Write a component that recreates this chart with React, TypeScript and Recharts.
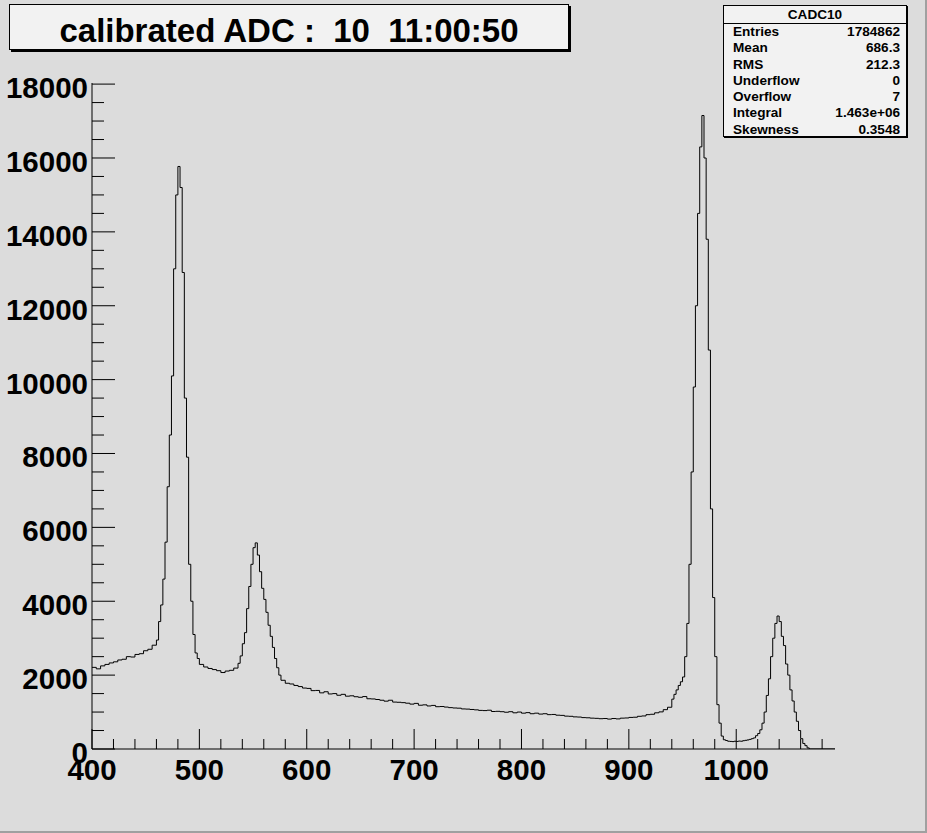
import { LineChart, Line, XAxis, YAxis } from "recharts"

const shoulderCounts = [2210, 2170, 2250, 2290, 2330, 2360, 2410, 2430, 2500, 2490, 2560, 2580, 2660, 2700, 2810]
const peak1Counts = [2950, 3450, 3900, 4600, 5600, 7100, 8500, 10100, 13000, 15000, 15770, 15200, 12900, 9500, 7900, 5000, 4000, 3100, 2600, 2450]
const valleyCounts = [2290, 2220, 2180, 2150, 2120, 2070, 2110, 2130, 2190]
const peak2Counts = [2320, 2520, 2850, 3150, 3800, 4400, 5000, 5450, 5580, 5250, 4800, 4350, 4050, 3700, 3350, 3050, 2750, 2450, 2200, 2000]
const plateauCounts = [
  1860, 1780, 1760, 1720, 1690, 1650, 1640, 1580, 1585, 1520, 1550, 1490, 1500, 1455, 1480, 1430,
  1440, 1415, 1400, 1420, 1360, 1355, 1340, 1320, 1295, 1320, 1270, 1265, 1255, 1240, 1215, 1235,
  1185, 1195, 1165, 1180, 1145, 1150, 1135, 1120, 1110, 1105, 1085, 1080, 1070, 1060, 1045, 1040,
  1050, 1015, 1020, 1010, 995, 1010, 980, 1000, 970, 985, 955, 970, 945, 955, 930, 935,
  915, 910, 890, 885, 870, 865, 850, 845, 835, 830, 820, 825, 810, 825, 815, 835,
  840, 855, 860, 885, 895, 930, 940, 980, 1005, 1065, 1130,
]
const tailCounts = [
  1350, 1480, 1600, 1720, 1820, 1950, 2500, 3400, 5000, 7500, 9800, 12000, 14500, 16300, 17150, 16000,
  13800, 10800, 6500, 4100, 2500, 1200, 700, 350, 250, 230, 210, 205, 200, 210, 205, 215,
  210, 225, 235, 245, 260, 280, 300, 360, 420, 520, 700, 1000, 1450, 1900, 2500, 3000,
  3400, 3600, 3450, 3050, 2800, 2300, 2000, 1600, 1300, 1000, 750, 500, 280, 150, 90, 30, 0,
]

const regions = [
  { start: 400, width: 4, counts: shoulderCounts },
  { start: 460, width: 2, counts: peak1Counts },
  { start: 500, width: 4, counts: valleyCounts },
  { start: 536, width: 2, counts: peak2Counts },
  { start: 576, width: 4, counts: plateauCounts },
  { start: 940, width: 2, counts: tailCounts },
]

const xMin = 400
const xMax = 1092
const yMax = 18030

const xTicks = Array.from({ length: 35 }, (_, i) => 400 + i * 20)
const yTicks = Array.from({ length: 37 }, (_, i) => i * 500)

const statsRows = [
  ["Entries", "1784862"],
  ["Mean", "686.3"],
  ["RMS", "212.3"],
  ["Underflow", "0"],
  ["Overflow", "7"],
  ["Integral", "1.463e+06"],
  ["Skewness", "0.3548"],
]

const data = regions.flatMap((r) => r.counts.map((c, i) => ({ adc: r.start + i * r.width, entries: c })))
data.push({ adc: xMax, entries: 0 })

const font = '"Liberation Sans", Arial, Helvetica, sans-serif'

const XTick = ({ x, y, payload }: any) => {
  const major = payload.value % 100 === 0
  return (
    <g>
      <line x1={x} y1={y} x2={x} y2={y - (major ? 20 : 10)} stroke="#000" />
      {major && (
        <text x={x} y={y + 31} textAnchor="middle" fontSize={29.5} fontWeight="bold" fontFamily={font} fill="#000">
          {payload.value}
        </text>
      )}
    </g>
  )
}

const YTick = ({ x, y, payload }: any) => {
  const major = payload.value % 2000 === 0
  return (
    <g>
      <line x1={x} y1={y} x2={x + (major ? 23 : 12)} y2={y} stroke="#000" />
      {major && (
        <text x={x - 4} y={y + 14} textAnchor="end" fontSize={29.5} fontWeight="bold" fontFamily={font} fill="#000">
          {payload.value}
        </text>
      )}
    </g>
  )
}

export default function App() {
  return (
    <div style={{ position: "absolute", left: 0, top: 0, width: 927, height: 833, background: "#dcdcdc", fontFamily: font }}>
      <LineChart width={927} height={833} data={data} margin={{ top: 83, right: 92, bottom: 0, left: 0 }}>
        <XAxis
          dataKey="adc"
          type="number"
          domain={[xMin, xMax]}
          ticks={xTicks}
          interval={0}
          height={84}
          tickSize={0}
          tickMargin={0}
          tick={XTick}
          axisLine={{ stroke: "#000" }}
          allowDataOverflow
        />
        <XAxis
          xAxisId="top"
          orientation="top"
          dataKey="adc"
          type="number"
          domain={[xMin, xMax]}
          height={0}
          tick={false}
          tickLine={false}
          axisLine={{ stroke: "#000" }}
        />
        <YAxis
          type="number"
          domain={[0, yMax]}
          ticks={yTicks}
          interval={0}
          width={92}
          tickSize={0}
          tickMargin={0}
          tick={YTick}
          axisLine={{ stroke: "#000" }}
          allowDataOverflow
        />
        <YAxis
          yAxisId="right"
          orientation="right"
          type="number"
          domain={[0, yMax]}
          width={0}
          tick={false}
          tickLine={false}
          axisLine={{ stroke: "#000" }}
        />
        <Line
          type="stepAfter"
          dataKey="entries"
          stroke="#000"
          strokeWidth={1}
          dot={false}
          isAnimationActive={false}
        />
      </LineChart>

      <div
        style={{
          position: "absolute",
          left: 9,
          top: 4,
          width: 558,
          height: 44,
          background: "#f2f2f2",
          border: "1px solid #000",
          boxShadow: "2px 2px 0 #000",
          textAlign: "center",
          fontSize: 33,
          fontWeight: "bold",
          lineHeight: "33px",
          whiteSpace: "pre",
          color: "#000",
        }}
      >
        <div style={{ paddingTop: 9 }}>{"calibrated ADC :  10  11:00:50"}</div>
      </div>

      <div
        style={{
          position: "absolute",
          left: 723,
          top: 5,
          width: 182,
          height: 130,
          background: "#f2f2f2",
          border: "1px solid #000",
          boxShadow: "1px 1px 0 #000",
          fontSize: 13.6,
          fontWeight: "bold",
          color: "#000",
        }}
      >
        <div style={{ height: 17, lineHeight: "17px", textAlign: "center", borderBottom: "1px solid #000" }}>CADC10</div>
        {statsRows.map(([k, v]) => (
          <div key={k} style={{ display: "flex", justifyContent: "space-between", height: 16.3, lineHeight: "16.3px", padding: "0 6px 0 9px" }}>
            <span>{k}</span>
            <span>{v}</span>
          </div>
        ))}
      </div>

      <div
        style={{
          position: "absolute",
          left: 0,
          top: 0,
          width: 925,
          height: 831,
          borderRight: "2px solid #a0a0a0",
          borderBottom: "2px solid #a0a0a0",
          pointerEvents: "none",
        }}
      />
    </div>
  )
}
